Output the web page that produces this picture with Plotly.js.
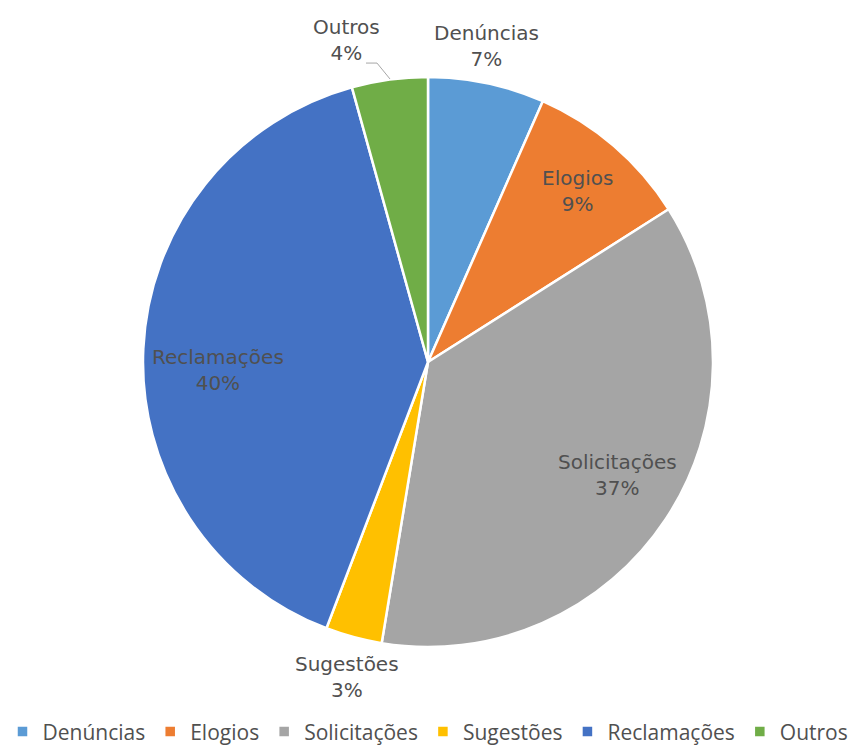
<!DOCTYPE html>
<html><head><meta charset="utf-8">
<script src="https://cdn.plot.ly/plotly-3.0.1.min.js"></script>
<style>html,body{margin:0;padding:0;background:#fff}#c{width:859px;height:753px}</style>
</head><body><div id="c"></div>
<script>
const categories = ["Denúncias","Elogios","Solicitações","Sugestões","Reclamações","Outros"];
const values = [6.6, 9.4, 36.6, 3.2, 39.9, 4.3];
const colors = ["#5B9BD5","#ED7D31","#A5A5A5","#FFC000","#4472C4","#70AD47"];
// label placement styles (radius factor, angle tweak in degrees)
const labelR = [1.127, 0.794, 0.784, 1.163, 0.74, 1.164];
const labelDA = [-1.3, 1, -1.6, -1, -5.8, -6.5];

const W = 859, H = 753, M = {l:0, r:3, t:77, b:103};
const pw = W - M.l - M.r, ph = H - M.t - M.b;
// pie geometry on the page (for label placement)
const cx = 428, cy = 360, R = 284;
const total = values.reduce((a,b)=>a+b,0);
const font = "DejaVu Sans, sans-serif";
const toPX = x => (x - M.l) / pw, toPY = y => 1 - (y - M.t) / ph;

const annotations = [];
let cum = 0;
values.forEach((v,i)=>{
  const mid = (cum + v/2) / total * 360 + labelDA[i];
  cum += v;
  const a = mid * Math.PI / 180;
  const x = cx + Math.sin(a) * R * labelR[i];
  const y = cy - Math.cos(a) * R * labelR[i];
  annotations.push({
    xref:"paper", yref:"paper", x: toPX(x), y: toPY(y), xanchor:"center", yanchor:"middle",
    showarrow:false,
    text: categories[i] + "<br>" + Math.round(v/total*100) + "%",
    font:{family:font, size:20, color:"#505050"}, align:"center"
  });
});

// leader line for Outros
const shapes = [{
  type:"path", xref:"paper", yref:"paper",
  path: `M ${toPX(366)} ${toPY(63)} L ${toPX(377)} ${toPY(63)} L ${toPX(390)} ${toPY(79)}`,
  line:{color:"#A6A6A6", width:1}
}];

Plotly.newPlot("c", [{
  type:"pie", labels:categories, values:values, sort:false, direction:"clockwise", rotation:0,
  marker:{colors:colors, line:{color:"#FFFFFF", width:2.5}},
  textinfo:"none", hoverinfo:"label+percent"
}], {
  width:W, height:H, margin:M, paper_bgcolor:"#fff",
  showlegend:true,
  legend:{orientation:"h", x:0.5, xanchor:"center", y:toPY(756), yanchor:"bottom",
    font:{family:"Open Sans, sans-serif", size:21, color:"#505050"}, itemwidth:30, tracegroupgap:0},
  annotations:annotations, shapes:shapes
}, {displayModeBar:false, staticPlot:true});
</script></body></html>
